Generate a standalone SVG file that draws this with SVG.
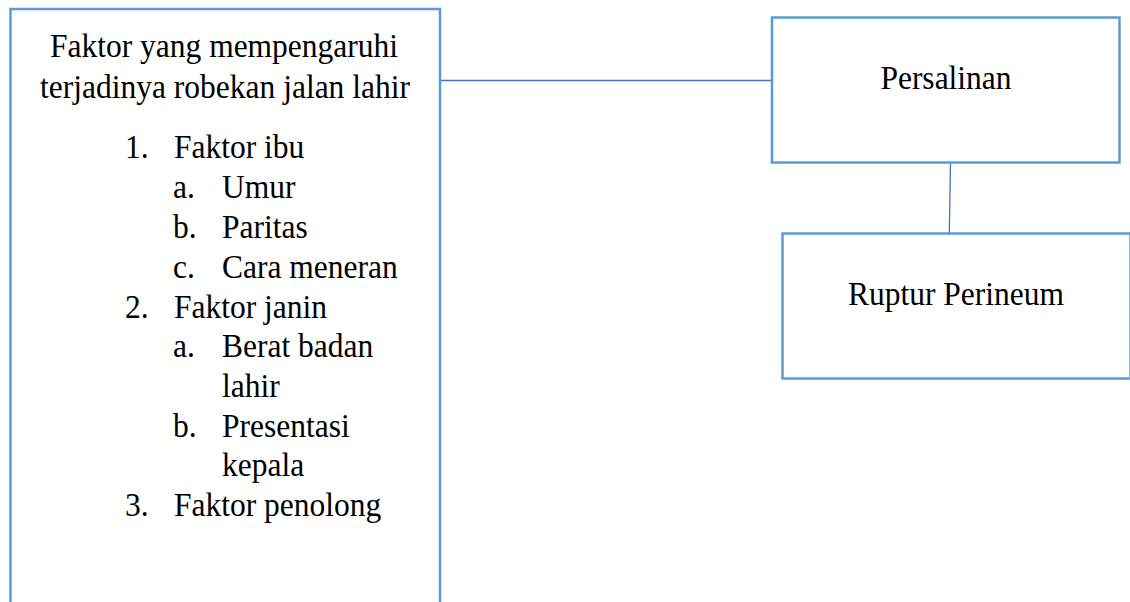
<svg xmlns="http://www.w3.org/2000/svg" width="1130" height="602" viewBox="0 0 1130 602">
<style>
.box{fill:#fff;stroke:#5B9BD5;stroke-width:2.5}
.con{stroke:#4472C4;stroke-width:1.3;fill:none}
text{font-family:"Liberation Serif","Times New Roman",serif;font-size:31.5px;fill:#000}
.c{text-anchor:middle}
</style>
<rect width="1130" height="602" fill="#fff"/>
<g id="connectors">
<line class="con" x1="441" y1="80.5" x2="771" y2="80.5"/>
<line class="con" x1="950.5" y1="163" x2="949.3" y2="233"/>
</g>
<g id="factors">
<rect class="box" x="10.5" y="9" width="429.5" height="620"/>
<text class="c" x="224" y="57" transform="matrix(1,0,0,1.1,0,-5.7)">Faktor yang mempengaruhi</text>
<text class="c" x="225" y="98" transform="matrix(1,0,0,1.1,0,-9.8)">terjadinya robekan jalan lahir</text>
<g transform="matrix(1,0,0,1.1,0,-15.8)"><text x="125" y="158">1.</text><text x="174" y="158">Faktor ibu</text></g>
<g transform="matrix(1,0,0,1.1,0,-19.8)"><text x="173" y="198">a.</text><text x="222" y="198">Umur</text></g>
<g transform="matrix(1,0,0,1.1,0,-23.8)"><text x="173" y="238">b.</text><text x="222" y="238">Paritas</text></g>
<g transform="matrix(1,0,0,1.1,0,-27.8)"><text x="173" y="278">c.</text><text x="222" y="278">Cara meneran</text></g>
<g transform="matrix(1,0,0,1.1,0,-31.8)"><text x="125" y="318">2.</text><text x="174" y="318">Faktor janin</text></g>
<g transform="matrix(1,0,0,1.1,0,-35.7)"><text x="173" y="357">a.</text><text x="222" y="357">Berat badan</text></g>
<text x="222" y="397" transform="matrix(1,0,0,1.1,0,-39.7)">lahir</text>
<g transform="matrix(1,0,0,1.1,0,-43.7)"><text x="173" y="437">b.</text><text x="222" y="437">Presentasi</text></g>
<text x="222" y="476" transform="matrix(1,0,0,1.1,0,-47.6)">kepala</text>
<g transform="matrix(1,0,0,1.1,0,-51.6)"><text x="125" y="516">3.</text><text x="174" y="516">Faktor penolong</text></g>
</g>
<g id="persalinan">
<rect class="box" x="772" y="17.5" width="347.5" height="145"/>
<text class="c" x="946" y="89" transform="matrix(1,0,0,1.1,0,-8.9)">Persalinan</text>
</g>
<g id="ruptur">
<rect class="box" x="782.5" y="233.5" width="348" height="145"/>
<text class="c" x="956" y="305" transform="matrix(1,0,0,1.1,0,-30.5)">Ruptur Perineum</text>
</g>
</svg>
